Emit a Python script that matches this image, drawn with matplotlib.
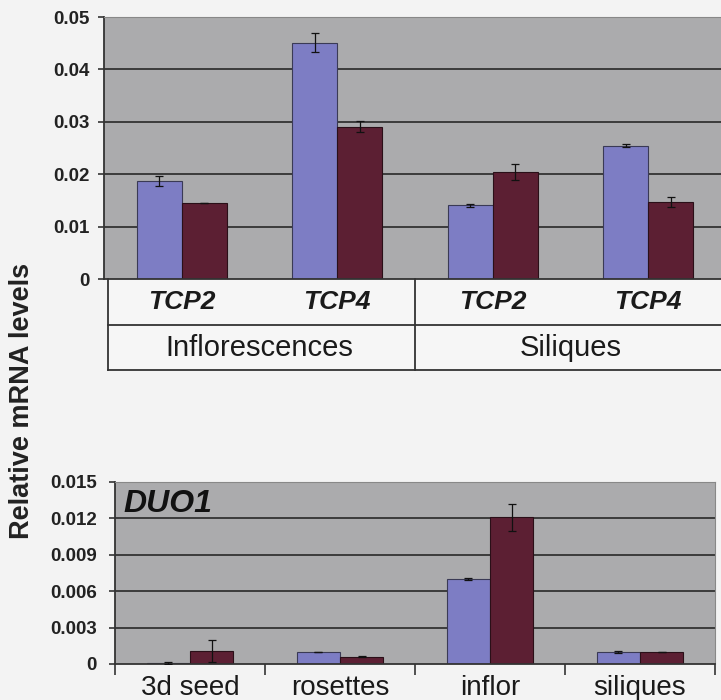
import numpy as np
import matplotlib.pyplot as plt
import matplotlib.transforms as mtransforms

plt.rcParams['font.family'] = ['Liberation Sans', 'DejaVu Sans']

# top panel: TCP2 / TCP4 in inflorescences and siliques
top_genes = ['TCP2', 'TCP4', 'TCP2', 'TCP4']
top_tissues = ['Inflorescences', 'Siliques']
top_blue = [0.0187, 0.0451, 0.0141, 0.0254]
top_blue_err = [0.0010, 0.0018, 0.0003, 0.0003]
top_red = [0.0145, 0.0291, 0.0204, 0.0147]
top_red_err = [0.0, 0.0010, 0.0015, 0.0010]

# bottom panel: DUO1
bot_labels = ['3d seed', 'rosettes', 'inflor', 'siliques']
bot_blue = [0.0001, 0.0010, 0.0070, 0.0010]
bot_blue_err = [0.0001, 0.0, 0.0001, 0.0001]
bot_red = [0.0011, 0.0006, 0.0121, 0.0010]
bot_red_err = [0.0009, 0.00005, 0.0011, 0.0]

blue = '#7d7dc4'
red = '#5c1f33'
plot_bg = '#ababad'
page_bg = '#f3f3f3'
line_c = '#333333'

fig = plt.figure(figsize=(7.21, 7.0), dpi=100)
fig.patch.set_facecolor(page_bg)

W, H = 721.0, 700.0


def style_axes(ax, ymax, step, fmt, fs, pad):
    ax.set_facecolor(plot_bg)
    ax.set_xlim(-0.5, 3.5)
    ax.set_ylim(0, ymax)
    ticks = np.arange(0, ymax + step / 2, step)
    ax.set_yticks(ticks)
    ax.set_yticklabels([fmt(t) for t in ticks], fontsize=fs, fontweight='bold', color='#222222')
    for t in ticks[1:]:
        ax.axhline(t, color=line_c, lw=1.3, zorder=1)
    ax.spines['left'].set_color(line_c)
    ax.spines['left'].set_linewidth(1.3)
    ax.spines['bottom'].set_color(line_c)
    ax.spines['bottom'].set_linewidth(1.3)
    ax.spines['top'].set_color('#888888')
    ax.spines['right'].set_color('#888888')
    ax.tick_params(axis='y', length=4, width=1.2, color=line_c, pad=pad)


def draw_bars(ax, b, be, r, re, width):
    x = np.arange(len(b))
    ax.bar(x - width / 2, b, width, color=blue, edgecolor='#3a3a55', lw=0.8, zorder=2)
    ax.bar(x + width / 2, r, width, color=red, edgecolor='#2a0f18', lw=0.8, zorder=2)
    ax.errorbar(x - width / 2, b, yerr=be, fmt='none', ecolor='#111111', elinewidth=0.9,
                capsize=3, capthick=0.9, zorder=3)
    ax.errorbar(x + width / 2, r, yerr=re, fmt='none', ecolor='#111111', elinewidth=0.9,
                capsize=3, capthick=0.9, zorder=3)


# ---- top chart ----
ax1 = fig.add_axes([104 / W, (H - 279) / H, 622 / W, 262 / H])
style_axes(ax1, 0.05, 0.01, lambda t: '0' if t == 0 else f'{t:.2f}', 13.5, 6)
draw_bars(ax1, top_blue, top_blue_err, top_red, top_red_err, 0.29)
ax1.set_xticks([])

# table under the top chart
tr = mtransforms.blended_transform_factory(ax1.transData, ax1.transAxes)
r1 = -46 / 262
r2 = -91 / 262
x_left = -0.474
for yy in [r1, r2]:
    ax1.plot([x_left, 3.5], [yy, yy], color=line_c, lw=1.3, transform=tr, clip_on=False)
ax1.plot([x_left, x_left], [0, r2], color=line_c, lw=1.3, transform=tr, clip_on=False)
ax1.plot([1.5, 1.5], [0, r2], color=line_c, lw=1.3, transform=tr, clip_on=False)
ax1.add_patch(plt.Rectangle((x_left, r2), 3.5 - x_left, -r2, transform=tr,
                            facecolor='#f6f6f6', edgecolor='none', clip_on=False, zorder=0))
for i, g in enumerate(top_genes):
    ax1.text(i, r1 / 2, g, transform=tr, ha='center', va='center', fontsize=19,
             fontweight='bold', fontstyle='italic', color='#1a1a1a')
for j, t in enumerate(top_tissues):
    ax1.text(0.5 + 2 * j, (r1 + r2) / 2, t, transform=tr, ha='center', va='center',
             fontsize=21, color='#1a1a1a')

# ---- bottom chart ----
ax2 = fig.add_axes([115 / W, (H - 664) / H, 600 / W, 182 / H])
style_axes(ax2, 0.015, 0.003, lambda t: '0' if t == 0 else f'{t:.3f}', 13.5, 9)
draw_bars(ax2, bot_blue, bot_blue_err, bot_red, bot_red_err, 0.287)
ax2.set_xticks(np.arange(4))
ax2.set_xticklabels(bot_labels, fontsize=20, color='#1a1a1a')
ax2.set_xticks(np.arange(-0.5, 4, 1), minor=True)
ax2.tick_params(axis='x', which='major', length=0, pad=8)
ax2.tick_params(axis='x', which='minor', length=8, width=1.2, color=line_c)
ax2.text(8 / 600, (664 - 512) / 182, 'DUO1', transform=ax2.transAxes, ha='left', va='baseline',
         fontsize=23, fontweight='bold', fontstyle='italic', color='#111111')

fig.text(22 / W, 1 - 401 / H, 'Relative mRNA levels', rotation=90, ha='center', va='center',
         fontsize=19.5, fontweight='bold', color='#222222')

fig.savefig('out.png', dpi=100, facecolor=fig.get_facecolor())
